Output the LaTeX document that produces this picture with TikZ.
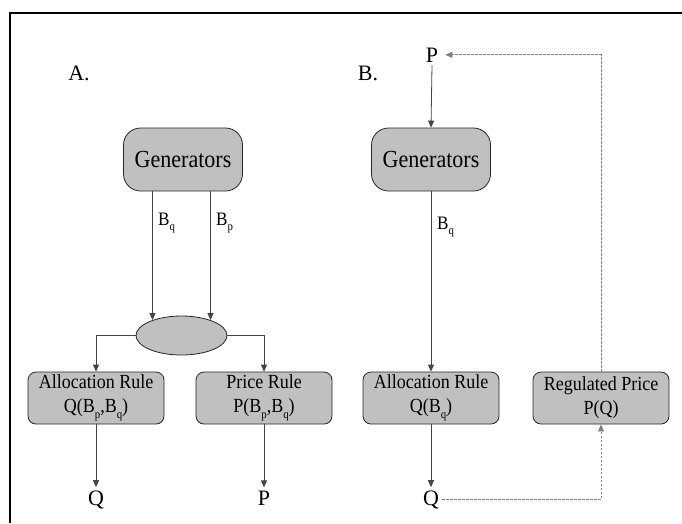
\documentclass[tikz,border=0pt]{standalone}
\usepackage{fontspec}
\usepackage{graphicx}
\setmainfont{Liberation Serif}
\usetikzlibrary{shapes.geometric,arrows.meta}
\newcommand{\sbs}[1]{\raisebox{-0.6ex}{\fontsize{12}{12}\selectfont #1}}
\newcommand{\nar}[1]{\scalebox{0.9}[1]{#1}}
\definecolor{boxgray}{HTML}{C0C0C0}
\definecolor{linegray}{HTML}{444444}
\tikzset{
  gen/.style={draw=black!85, fill=boxgray, rounded corners=17pt, minimum width=119pt, minimum height=63pt, inner sep=0pt, line width=0.8pt, font=\fontsize{24.5}{28}\selectfont},
  rulebox/.style={draw=black!85, fill=boxgray, rounded corners=8pt, minimum width=136pt, minimum height=52pt, inner sep=0pt, line width=0.8pt, align=center, font=\fontsize{20}{24}\selectfont},
  joinell/.style={ellipse, draw=black!85, fill=boxgray, minimum width=91pt, minimum height=39pt, inner sep=0pt, line width=0.8pt},
  lbl/.style={font=\fontsize{22}{22}\selectfont, inner sep=3pt},
  blbl/.style={font=\fontsize{19}{19}\selectfont, inner sep=0pt, anchor=base west},
  conn/.style={draw=linegray, line width=0.8pt, -{Triangle[length=7pt,width=6pt]}},
  dconn/.style={draw=black!50, line width=0.8pt, dash pattern=on 2.5pt off 1.5pt, -{Triangle[length=7pt,width=6pt]}}
}
\begin{document}
\begin{tikzpicture}[x=1pt,y=-1pt]
\useasboundingbox (0,0) rectangle (682,523);
\draw[line width=1.5pt] (10,523) -- (10,13) -- (682,13);

% Panel A
\node[lbl] (labA) at (79,73) {A.};
\node[gen] (genA) at (183,159.5) {\nar{Generators}};
\node[joinell] (ell) at (181.5,335.5) {};
\node[rulebox] (allocA) at (96,398) {\nar{Allocation Rule}\\\nar{Q(B\sbs{p},B\sbs{q})}};
\node[rulebox] (priceA) at (264,398) {\nar{Price Rule}\\\nar{P(B\sbs{p},B\sbs{q})}};
\node[lbl, anchor=base] (qA) at (96,505) {Q};
\node[lbl, anchor=base] (pA) at (264,505) {P};
\draw[conn] (genA.south -| ell.152) -- (ell.152);
\draw[conn] (genA.south -| ell.28) -- (ell.28);
\node[blbl] (bqA) at (158,225) {\nar{B\sbs{q}}};
\node[blbl] (bpA) at (216,225) {\nar{B\sbs{p}}};
\draw[conn] (ell.west) -| (allocA.north);
\draw[conn] (ell.east) -| (priceA.north);
\draw[conn] (allocA.south) -- (qA.north);
\draw[conn] (priceA.south) -- (pA.north);

% Panel B
\node[lbl] (labB) at (368,73) {B.};
\node[lbl, anchor=base] (pB) at (432,62) {P};
\node[gen] (genB) at (431,159.5) {\nar{Generators}};
\node[rulebox] (allocB) at (431,398) {\nar{Allocation Rule}\\\nar{Q(B\sbs{q})}};
\node[rulebox] (reg) at (601,398) {\nar{Regulated Price}\\\nar{P(Q)}};
\node[lbl, anchor=base] (qB) at (431,505) {Q};
\node[blbl] (bqB) at (437,229) {\nar{B\sbs{q}}};
\draw[conn] (pB.south) -- (genB.north);
\draw[conn] (genB.south) -- (allocB.north);
\draw[conn] (allocB.south) -- (qB.north);
\draw[dconn] (qB.east) -| (reg.south);
\draw[dconn] (reg.north) |- ([xshift=4pt]pB.east);
\end{tikzpicture}
\end{document}
